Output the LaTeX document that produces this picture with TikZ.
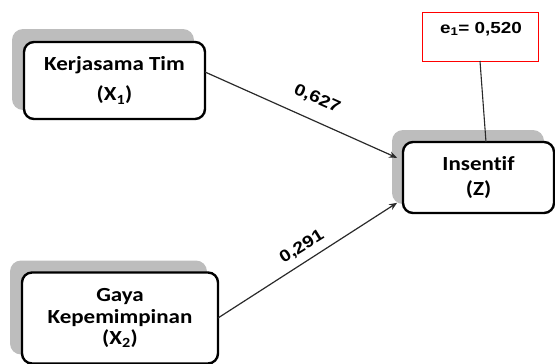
\documentclass[tikz,border=0pt]{standalone}
\usepackage{fontspec}
\usetikzlibrary{arrows.meta,backgrounds}
\newfontfamily\carl[FakeStretch=1.15,Ligatures={NoCommon}]{Carlito}
\newfontfamily\arl[FakeStretch=1.18]{Liberation Sans}
\definecolor{shadowc}{HTML}{BDBDBD}
\definecolor{linec}{HTML}{2A2A2A}
\tikzset{
  varbox/.style={draw=black, line width=2.4pt, rounded corners=10pt, fill=white,
    align=center, inner sep=0pt, outer sep=0pt, font=\carl\bfseries\fontsize{20}{30}\selectfont},
  errbox/.style={draw=red, line width=1pt, fill=white, inner sep=0pt, outer sep=0pt},
  path/.style={draw=linec, line width=1.2pt, -{Stealth[length=8pt,width=6.5pt]}},
  coef/.style={font=\arl\bfseries\fontsize{16.5}{18}\selectfont, text=black, inner sep=0pt},
  shade/.style={fill=shadowc, rounded corners=11pt}
}
\begin{document}
\begin{tikzpicture}[x=1pt,y=-1pt]
\useasboundingbox (0,0) rectangle (555,364);
% boxes
\node[varbox, minimum width=181pt, minimum height=77pt] (X1) at (114.5,80.5)
  {Kerjasama Tim\\(X\textsubscript{1})};
\node[varbox, minimum width=196pt, minimum height=91pt,
  font=\carl\bfseries\fontsize{20}{21.5}\selectfont] (X2) at (120,318)
  {Gaya\\Kepemimpinan\\(X\textsubscript{2})};
\node[varbox, minimum width=151pt, minimum height=71pt,
  font=\carl\bfseries\fontsize{20}{25}\selectfont] (Z) at (478.5,177.5)
  {Insentif\\(Z)};
\node[errbox, minimum width=116pt, minimum height=49pt] (e1) at (480,36.5) {};
\node[coef, font=\arl\bfseries\fontsize{16}{18}\selectfont] (e1t) at (481,29)
  {e\textsubscript{1}= 0,520};
% shadows
\begin{scope}[on background layer]
\fill[shade] ([shift={(-12,-13)}]X1.north west) rectangle ([shift={(-11,-9)}]X1.south east);
\fill[shade] ([shift={(-12,-12)}]X2.north west) rectangle ([shift={(-11,-9)}]X2.south east);
\fill[shade] ([shift={(-11,-12)}]Z.north west) rectangle ([shift={(-10,-9)}]Z.south east);
\end{scope}
% connectors
\draw[path, shorten >=6.5pt] ([yshift=8.5pt]X1.east) -- ([yshift=17pt]Z.west);
\draw[path, shorten >=7pt] (X2.east) -- ([yshift=-21.5pt]Z.west);
\draw[draw=linec, line width=1.1pt] (e1.south) -- ([xshift=7.5pt]Z.north);
% coefficients
\node[coef, rotate=-24] (c1) at (317,99) {0,627};
\node[coef, rotate=32] (c2) at (302,247) {0,291};
\end{tikzpicture}
\end{document}
